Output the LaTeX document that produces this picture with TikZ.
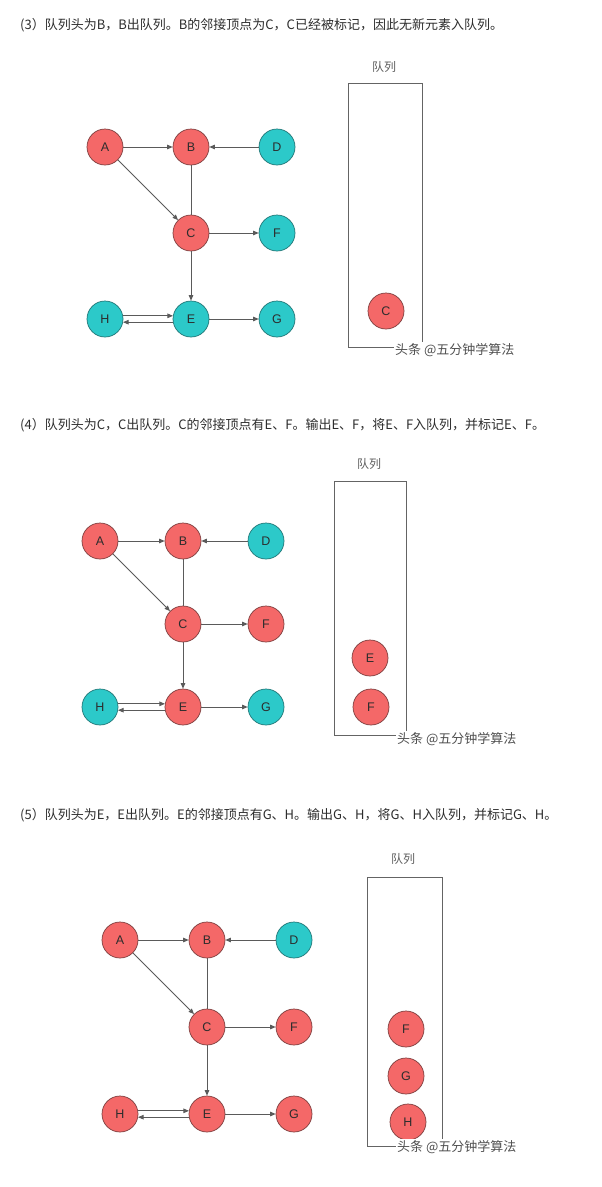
\documentclass[tikz,border=0pt]{standalone}
\usepackage{fontspec}
\setmainfont{Liberation Sans}
\newfontfamily\cjk{Noto Sans CJK SC}
\usetikzlibrary{arrows.meta}
\definecolor{rfill}{RGB}{244,104,104}
\definecolor{rdraw}{RGB}{125,62,62}
\definecolor{tfill}{RGB}{44,201,201}
\definecolor{tdraw}{RGB}{32,118,118}
\definecolor{edgec}{RGB}{90,90,90}
\definecolor{txt}{RGB}{45,45,45}
\tikzset{
  vtx/.style={circle, minimum size=36pt, inner sep=0pt, line width=0.7pt, text=txt, font=\fontsize{12.5}{12.5}\selectfont},
  red/.style={vtx, fill=rfill, draw=rdraw},
  teal/.style={vtx, fill=tfill, draw=tdraw},
  edge/.style={draw=edgec, line width=0.8pt},
  arr/.style={edge, -{Triangle[length=5.5pt,width=4.5pt]}},
  head/.style={anchor=west, inner sep=0pt, text=txt, font=\cjk\fontsize{13}{13}\selectfont},
  qlabel/.style={inner sep=0pt, text={rgb,255:red,95;green,95;blue,95}, font=\cjk\fontsize{12}{12}\selectfont},
  qbox/.style={draw={rgb,255:red,100;green,100;blue,100}, line width=0.8pt},
  wmark/.style={anchor=west, fill=white, inner sep=1pt, text={rgb,255:red,80;green,80;blue,80}, font=\cjk\fontsize{13}{13}\selectfont}
}
% #1 prefix, #2 x0, #3 y0, #4 spacing, #5 style of E,F, #6 style of G,H
\newcommand\bfsgraph[6]{%
  \node[red] (#1A) at (#2,#3) {A};
  \node[red] (#1B) at ({#2+#4},#3) {B};
  \node[teal] (#1D) at ({#2+2*#4},#3) {D};
  \node[red] (#1C) at ({#2+#4},{#3+#4}) {C};
  \node[#5] (#1F) at ({#2+2*#4},{#3+#4}) {F};
  \node[#6] (#1H) at (#2,{#3+2*#4}) {H};
  \node[#5] (#1E) at ({#2+#4},{#3+2*#4}) {E};
  \node[#6] (#1G) at ({#2+2*#4},{#3+2*#4}) {G};
  \draw[arr] (#1A) -- (#1B);
  \draw[arr] (#1D) -- (#1B);
  \draw[arr] (#1A) -- (#1C);
  \draw[edge] (#1B) -- (#1C);
  \draw[arr] (#1C) -- (#1F);
  \draw[arr] (#1C) -- (#1E);
  \draw[arr] (#1H.10) -- (#1E.170);
  \draw[arr] (#1E.190) -- (#1H.350);
  \draw[arr] (#1E) -- (#1G);
}
\begin{document}
\begin{tikzpicture}[x=1pt,y=-1pt]
\path[use as bounding box, fill=white] (0,0) rectangle (602,1187);

% ---------- (3) ----------
\node[head] (h1) at (20,25) {(3）队列头为B，B出队列。B的邻接顶点为C，C已经被标记，因此无新元素入队列。};
\bfsgraph{s}{105}{147}{86}{teal}{teal}
\node[qlabel] (ql1) at (384,67) {队列};
\draw[qbox] (348,83) rectangle (422,347);
\node[red] (q1c) at (386,311) {C};
\node[wmark] (w1) at (394,350) {头条 @五分钟学算法};

% ---------- (4) ----------
\node[head] (h2) at (20,425) {(4）队列头为C，C出队列。C的邻接顶点有E、F。输出E、F，将E、F入队列，并标记E、F。};
\bfsgraph{t}{100}{541}{83}{red}{teal}
\node[qlabel] (ql2) at (369,464) {队列};
\draw[qbox] (334,481) rectangle (406,735);
\node[red] (q2e) at (370,658) {E};
\node[red] (q2f) at (371,707) {F};
\node[wmark] (w2) at (396,739) {头条 @五分钟学算法};

% ---------- (5) ----------
\node[head] (h3) at (20,815) {(5）队列头为E，E出队列。E的邻接顶点有G、H。输出G、H，将G、H入队列，并标记G、H。};
\bfsgraph{u}{120}{940}{87}{red}{red}
\node[qlabel] (ql3) at (403,859) {队列};
\draw[qbox] (367,877) rectangle (442,1146);
\node[red] (q3f) at (406,1029) {F};
\node[red] (q3g) at (406,1076) {G};
\node[red] (q3h) at (408,1122) {H};
\node[wmark] (w3) at (396,1147) {头条 @五分钟学算法};
\end{tikzpicture}
\end{document}
